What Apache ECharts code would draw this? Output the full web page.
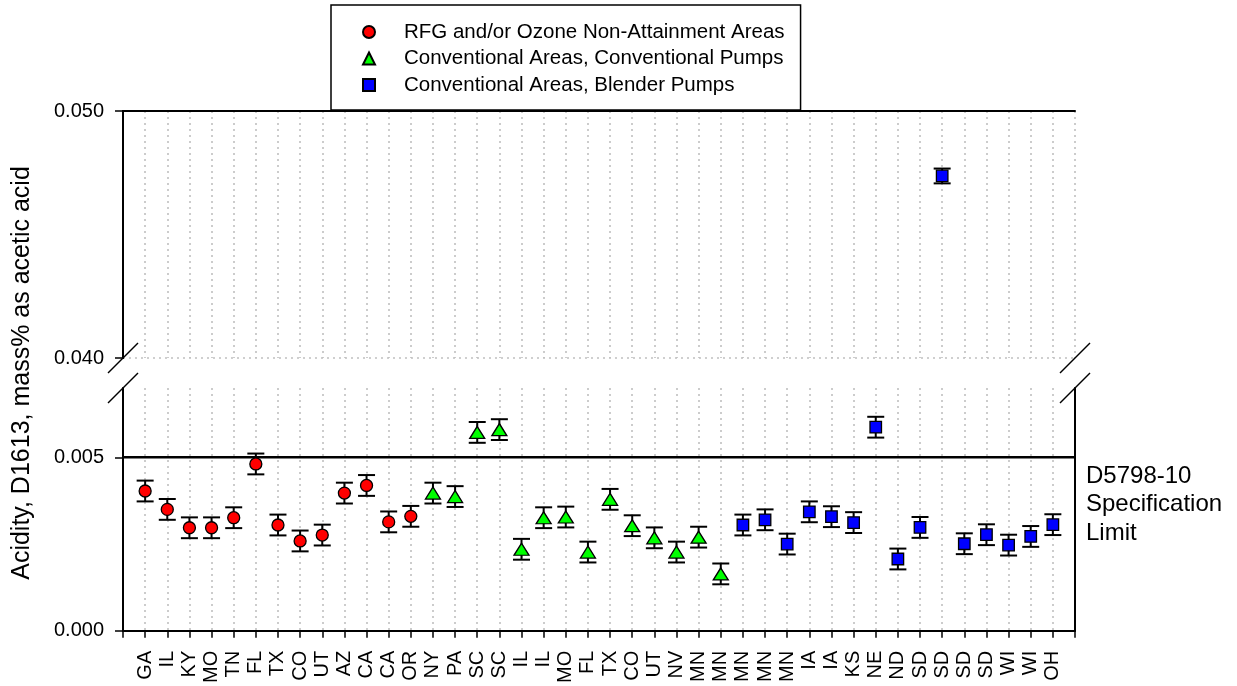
<!DOCTYPE html>
<html>
<head>
<meta charset="utf-8">
<script src="https://cdn.jsdelivr.net/npm/echarts@6/dist/echarts.min.js"></script>
<style>
html, body { margin: 0; padding: 0; background: #fff; }
#chart { width: 1237px; height: 686px; }
</style>
</head>
<body>
<div id="chart"></div>
<script>
// state labels, in plotting order (RFG, conventional pumps, blender pumps)
const states = ['GA', 'IL', 'KY', 'MO', 'TN', 'FL', 'TX', 'CO', 'UT', 'AZ', 'CA', 'CA', 'OR',
  'NY', 'PA', 'SC', 'SC', 'IL', 'IL', 'MO', 'FL', 'TX', 'CO', 'UT', 'NV', 'MN', 'MN',
  'MN', 'MN', 'MN', 'IA', 'IA', 'KS', 'NE', 'ND', 'SD', 'SD', 'SD', 'SD', 'WI', 'WI', 'OH']

const rfgValues = [0.00403, 0.00350, 0.00297, 0.00297, 0.00326, 0.00481, 0.00305, 0.00259,
  0.00276, 0.00397, 0.00419, 0.00314, 0.00330]
const convValues = [0.00397, 0.00387, 0.00572, 0.00580, 0.00235, 0.00326, 0.00328, 0.00227,
  0.00379, 0.00303, 0.00268, 0.00227, 0.00270, 0.00164]
const blenderValues = [0.00305, 0.00320, 0.00250, 0.00343, 0.00329, 0.00312, 0.00587, 0.00207,
  0.00298, 0.04737, 0.00251, 0.00277, 0.00247, 0.00272, 0.00306]

const errHalf = 0.0003       // +/- repeatability shown on every point
const specLimit = 0.005      // D5798-10 limit
const lowerTicks = [0, 0.005]
const upperTicks = [0.040, 0.050]
const lowerMax = 0.007
const breakValue = 0.01

const names = ['RFG and/or Ozone Non-Attainment Areas',
  'Conventional Areas, Conventional Pumps',
  'Conventional Areas, Blender Pumps']

const FONT = 'Liberation Sans, Arial, sans-serif'

// layout
const L = 123, R = 1075
const upTop = 111, upBot = 358
const loTop = 388, loBot = 634

let pos = 0
const toPts = arr => arr.map(v => [++pos, v])
const groups = [
  { name: names[0], pts: toPts(rfgValues), symbol: 'circle', size: 12, color: '#ff0000' },
  { name: names[1], pts: toPts(convValues), symbol: 'triangle', size: [15, 12], color: '#00ff00' },
  { name: names[2], pts: toPts(blenderValues), symbol: 'rect', size: 11.5, color: '#0000ff' },
]
const nX = states.length + 1

const errRender = function (params, api) {
  const x = api.value(0), v = api.value(1)
  const t = api.coord([x, v + errHalf])
  const b = api.coord([x, v - errHalf])
  const hw = 8.5
  const st = { stroke: '#000', lineWidth: 2 }
  return {
    type: 'group',
    children: [
      { type: 'line', shape: { x1: t[0], y1: t[1], x2: b[0], y2: b[1] }, style: st },
      { type: 'line', shape: { x1: t[0] - hw, y1: t[1], x2: t[0] + hw, y2: t[1] }, style: st },
      { type: 'line', shape: { x1: b[0] - hw, y1: b[1], x2: b[0] + hw, y2: b[1] }, style: st },
    ],
  }
}

const series = []

// spec limit line across the lower panel
series.push({
  type: 'line',
  name: 'spec',
  xAxisIndex: 2,
  yAxisIndex: 2,
  data: [[0, specLimit], [nX, specLimit]],
  symbol: 'none',
  lineStyle: { color: '#000', width: 2.5 },
  silent: true,
  z: 1,
})

groups.forEach(g => {
  const parts = [
    { pts: g.pts.filter(p => p[1] < breakValue), xi: 2, yi: 2 },
    { pts: g.pts.filter(p => p[1] >= breakValue), xi: 0, yi: 0 },
  ]
  parts.forEach(part => {
    if (!part.pts.length) return
    series.push({
      type: 'custom',
      name: g.name + ' err',
      xAxisIndex: part.xi,
      yAxisIndex: part.yi,
      renderItem: errRender,
      data: part.pts,
      z: 2,
      silent: true,
    })
    series.push({
      type: 'scatter',
      name: g.name,
      xAxisIndex: part.xi,
      yAxisIndex: part.yi,
      symbol: g.symbol,
      symbolSize: g.size,
      itemStyle: { color: g.color, borderColor: '#000', borderWidth: 1.3, opacity: 1 },
      data: part.pts,
      z: 3,
    })
  })
})

const dotted = { show: true, lineStyle: { color: '#c0c0c0', width: 1.6, type: [2, 4] } }
const blackLine = { show: true, lineStyle: { color: '#000', width: 2 } }
const noShow = { show: false }
const tickLabel = { color: '#000', fontSize: 20, fontFamily: FONT }

// break marks on both vertical borders
const slashes = []
;[L, R].forEach(x => {
  ;[upBot, loTop].forEach(y => {
    slashes.push({
      type: 'line',
      shape: { x1: x - 15, y1: y + 15, x2: x + 15, y2: y - 15 },
      style: { stroke: '#000', lineWidth: 1.5 },
      z: 10,
    })
  })
})

const option = {
  animation: false,
  backgroundColor: '#fff',
  grid: [
    { left: L, right: 1237 - R, top: upTop, height: upBot - upTop },
    { left: L, right: 1237 - R, top: loTop, height: loBot - loTop },
  ],
  legend: {
    data: names,
    orient: 'vertical',
    left: 331,
    top: 5,
    padding: [16, 16, 14, 31],
    itemGap: 4.5,
    itemWidth: 12,
    itemHeight: 12,
    backgroundColor: '#fff',
    borderColor: '#000',
    borderWidth: 1.5,
    selectedMode: false,
    textStyle: { fontSize: 20.5, color: '#000', fontFamily: FONT, lineHeight: 22, padding: [0, 0, 0, 24] },
    z: 20,
  },
  xAxis: [
    { gridIndex: 0, type: 'value', min: 0, max: nX, interval: 1, position: 'bottom',
      axisLine: noShow, axisTick: noShow, axisLabel: noShow, splitLine: dotted },
    { gridIndex: 0, type: 'value', min: 0, max: nX, position: 'top',
      axisLine: blackLine, axisTick: noShow, axisLabel: noShow, splitLine: noShow },
    { gridIndex: 1, type: 'value', min: 0, max: nX, interval: 1, position: 'bottom',
      axisLine: blackLine,
      axisTick: { show: true, length: 7, lineStyle: { color: '#000', width: 1.5 } },
      axisLabel: Object.assign({ rotate: 90, margin: 20, formatter: v => states[v - 1] || '' }, tickLabel),
      splitLine: dotted },
  ],
  yAxis: [
    { gridIndex: 0, type: 'value', min: upperTicks[0], max: upperTicks[1], interval: upperTicks[1] - upperTicks[0],
      axisLine: blackLine,
      axisTick: { show: true, length: 8, lineStyle: { color: '#000', width: 1.5 } },
      axisLabel: Object.assign({ margin: 19, formatter: v => v.toFixed(3) }, tickLabel),
      splitLine: dotted },
    { gridIndex: 0, type: 'value', position: 'right', min: upperTicks[0], max: upperTicks[1],
      axisLine: blackLine, axisTick: noShow, axisLabel: noShow, splitLine: noShow },
    { gridIndex: 1, type: 'value', min: 0, max: lowerMax, interval: 0.005,
      axisLine: blackLine,
      axisTick: { show: true, length: 8, customValues: lowerTicks, lineStyle: { color: '#000', width: 1.5 } },
      axisLabel: Object.assign({ margin: 19, customValues: lowerTicks,
        formatter: v => v.toFixed(3) }, tickLabel),
      splitLine: noShow },
    { gridIndex: 1, type: 'value', position: 'right', min: 0, max: lowerMax,
      axisLine: blackLine, axisTick: noShow, axisLabel: noShow, splitLine: noShow },
  ],
  graphic: [
    ...slashes,
    { type: 'text', x: 22, y: 373, rotation: Math.PI / 2,
      style: { text: 'Acidity, D1613, mass% as acetic acid', fill: '#000', fontSize: 25,
        fontFamily: FONT, align: 'center', verticalAlign: 'middle' } },
    { type: 'text', x: 1086, y: 462,
      style: { text: 'D5798-10\nSpecification\nLimit', fill: '#000', fontSize: 24, lineHeight: 28.5,
        fontFamily: FONT, align: 'left', verticalAlign: 'top' } },
  ],
  series: series,
}

const chart = echarts.init(document.getElementById('chart'))
chart.setOption(option)
window.addEventListener('resize', function () {
  chart && chart.resize()
})
</script>
</body>
</html>
